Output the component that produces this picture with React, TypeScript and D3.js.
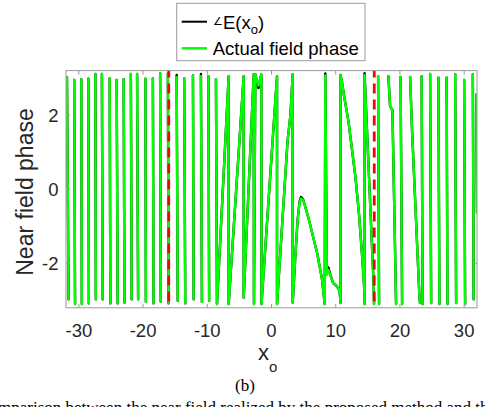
import React from "react";
import * as d3 from "d3";

type Pt = [number, number];

const X_DOMAIN: Pt = [-32, 32];
const Y_DOMAIN: Pt = [-3.2, 3.2];
const xTicks = [-30, -20, -10, 0, 10, 20, 30];
const yTicks = [-2, 0, 2];
const markerX = [-16, 16];

// wrapped phase, left outer region (shared by both traces)
const leftOuterStrokes: Pt[][] = [
  [[-32, 1.21], [-31.85, 3.02], [-31.6, -2.97]],
  [[-30.72, 2.95], [-30.59, -3.1]],
  [[-29.62, 2.97], [-29.53, -3.1]],
  [[-28.52, 2.98], [-28.44, -3.08]],
  [[-27.43, 3.11], [-27.35, -2.97]],
  [[-26.41, 3.11], [-26.29, -2.97]],
  [[-25.2, 2.99], [-25.09, -3.08]],
  [[-24.11, 2.95], [-23.95, -3.08]],
  [[-23.02, 2.97], [-22.89, -3.06]],
  [[-21.9, 3.11], [-21.77, -2.97]],
  [[-20.93, 3.11], [-20.77, -2.97]],
  [[-19.64, 2.98], [-19.56, -3.03]],
  [[-18.47, 2.99], [-18.37, -3.08]],
  [[-17.34, 3.13], [-17.25, -3.03]],
  [[-16.13, 3.12], [-16.04, -3.08]],
];

// central region, actual field phase (green)
const greenCentreStrokes: Pt[][] = [
  [[-14.77, 3.02], [-14.6, -3.01]],
  [[-13.59, 2.99], [-13.43, -3.08]],
  [[-12.23, 3.07], [-12.12, -2.97]],
  [[-10.99, 3.05], [-10.83, -3.04]],
  [[-9.82, 3.05], [-9.71, -3.01]],
  [
    [-8.65, 2.97], [-8.49, -3.1], [-6.67, 3.05], [-6.67, -3.1], [-4.33, 3.05], [-4.33, -2.93],
    [-2.77, 3.1], [-2.73, -3.1], [-2.52, 3.1], [-2.03, 2.79], [-1.59, 3.1], [-1.56, -3.1],
    [0.86, 3.05], [0.86, -3.1], [2.5, 1.3], [2.95, 2.0], [3.3, 3.1], [3.3, -3.06],
    [3.66, -1.96], [4.05, -0.88], [4.36, -0.37], [4.6, -0.25], [4.91, -0.29], [5.27, -0.48],
    [5.84, -0.83], [6.31, -1.17], [7.09, -1.71], [7.87, -2.43], [8.29, -3.1], [8.38, 3.07],
    [8.62, -2.31], [8.88, -2.18], [9.19, -2.34], [9.58, -2.53], [10.13, -2.61], [10.6, -2.74],
    [10.75, -3.07], [10.75, 3.08], [10.99, 2.87], [11.3, 2.52], [12.0, 1.81], [12.54, 1.06],
    [13.09, 0.3], [13.64, -0.7], [14.1, -1.77], [14.41, -2.58], [14.52, -3.1], [14.49, 3.08],
    [15.9, -2.53], [15.97, -3.1],
  ],
];

// central region, ∠E(x_o) (black)
const blackCentreStrokes: Pt[][] = [
  [[-14.77, 3.08], [-14.6, -3.01]],
  [[-13.59, 2.99], [-13.43, -3.08]],
  [[-12.23, 3.07], [-12.12, -2.97]],
  [[-10.99, 3.11], [-10.83, -3.04]],
  [[-9.82, 3.05], [-9.71, -3.01]],
  [
    [-8.65, 2.97], [-8.49, -3.1], [-6.67, 3.05], [-6.67, -3.1], [-4.33, 3.05], [-4.33, -2.93],
    [-2.77, 3.1], [-2.73, -3.1], [-2.52, 3.1], [-2.03, 2.73], [-1.59, 3.1], [-1.56, -3.1],
    [0.86, 3.05], [0.86, -3.1], [2.5, 1.3], [2.95, 2.0], [3.3, 3.1], [3.3, -3.06],
    [3.66, -1.96], [4.05, -0.86], [4.36, -0.34], [4.6, -0.21], [4.91, -0.27], [5.27, -0.48],
    [5.84, -0.83], [6.31, -1.17], [7.09, -1.71], [7.87, -2.43], [8.29, -3.1], [8.38, 3.12],
    [8.62, -2.28], [8.85, -2.11], [9.19, -2.32], [9.58, -2.53], [10.13, -2.61], [10.6, -2.74],
    [10.75, -3.07], [10.75, 3.08], [10.99, 2.87], [11.3, 2.52], [12.0, 1.81], [12.54, 1.06],
    [13.09, 0.3], [13.64, -0.7], [14.1, -1.77], [14.41, -2.58], [14.52, -3.1], [14.49, 3.13],
    [15.9, -2.53], [15.97, -3.1],
  ],
];

// wrapped phase, right outer region (shared by both traces)
const rightOuterStrokes: Pt[][] = [
  [[16.6, 3.05], [16.75, -3.1]],
  [[18.2, 3.05], [18.47, 2.23], [18.83, 2.14], [19.4, -3.1]],
  [[20.1, 3.03], [20.34, -3.1]],
  [[21.58, 3.03], [21.9, 1.54], [23.03, -2.88], [23.11, -3.07]],
  [[23.38, 3.05], [23.53, -3.1]],
  [[24.7, 3.11], [24.86, -3.07]],
  [[25.99, 3.01], [26.15, -3.1]],
  [[27.27, 3.01], [27.4, -3.1]],
  [[28.6, 3.1], [28.75, -3.07]],
  [[30.0, 2.95], [30.15, -3.1]],
  [[31.35, 3.1], [31.48, -2.97]],
  [[31.9, 2.55], [32.0, -0.63]],
];

const L = 66, R = 477, T = 70.6, B = 307.8;

export default function App() {
  const x = d3.scaleLinear().domain(X_DOMAIN).range([L, R]);
  const y = d3.scaleLinear().domain(Y_DOMAIN).range([B, T]);
  const line = d3.line<Pt>().x((d) => x(d[0])).y((d) => y(d[1]));
  const pathOf = (strokes: Pt[][]) => strokes.map((s) => line(s)).join("");
  const blackPath = pathOf([...leftOuterStrokes, ...blackCentreStrokes, ...rightOuterStrokes]);
  const greenPath = pathOf([...leftOuterStrokes, ...greenCentreStrokes, ...rightOuterStrokes]);
  const font = "'Liberation Sans', Arial, Helvetica, sans-serif";
  const serif = "'Liberation Serif', 'Times New Roman', serif";
  const axisCol = "#262626";
  const tickLen = 4;

  return (
    <svg width={485} height={407} style={{ position: "absolute", left: 0, top: 0, background: "#fff" }}
      fontFamily={font}>
      <rect x={0} y={0} width={485} height={407} fill="#fff" />
      <defs>
        <clipPath id="plotClip">
          <rect x={L} y={T} width={R - L} height={B - T} />
        </clipPath>
      </defs>
      <g clipPath="url(#plotClip)">
        <path d={blackPath} fill="none" stroke="#000" strokeWidth={2.4} strokeLinejoin="round" strokeLinecap="round" />
        <path d={greenPath} fill="none" stroke="#00ff00" strokeWidth={2.4} strokeLinejoin="round" strokeLinecap="round" />
        {markerX.map((m) => (
          <line key={m} x1={x(m)} x2={x(m)} y1={y(Y_DOMAIN[1])} y2={y(Y_DOMAIN[0])}
            stroke="#ff0000" strokeWidth={2.8} strokeDasharray="10,6" strokeDashoffset={3} />
        ))}
      </g>
      {/* axes box */}
      <rect x={L} y={T} width={R - L} height={B - T} fill="none" stroke="#9a9a9a" strokeWidth={1} />
      {xTicks.map((t) => (
        <g key={"x" + t}>
          <line x1={x(t)} x2={x(t)} y1={B} y2={B - tickLen} stroke="#9a9a9a" />
          <line x1={x(t)} x2={x(t)} y1={T} y2={T + tickLen} stroke="#9a9a9a" />
          <text x={x(t)} y={337} textAnchor="middle" fontSize={18.5} fill={axisCol}>{t}</text>
        </g>
      ))}
      {yTicks.map((t) => (
        <g key={"y" + t}>
          <line x1={L} x2={L + tickLen} y1={y(t)} y2={y(t)} stroke="#9a9a9a" />
          <line x1={R} x2={R - tickLen} y1={y(t)} y2={y(t)} stroke="#9a9a9a" />
          <text x={58.5} y={y(t)} dy="0.35em" textAnchor="end" fontSize={18.5} fill={axisCol}>{t}</text>
        </g>
      ))}
      <text transform="translate(33,192) rotate(-90)" textAnchor="middle" fontSize={23} fill={axisCol}>
        Near field phase
      </text>
      <text x={258} y={360} fontSize={22} fill={axisCol}>
        x<tspan fontSize={15} dy={12}>o</tspan>
      </text>
      {/* legend */}
      <rect x={176.7} y={3.3} width={188.3} height={57.4} fill="#fff" stroke="#9a9a9a" strokeWidth={1} />
      <line x1={181.7} x2={207} y1={21.7} y2={21.7} stroke="#000" strokeWidth={2} />
      <text x={213} y={28.5} fontSize={18.5} fill="#000">
        <tspan fontSize={11} dy={-4}>∠</tspan>
        <tspan dy={4}>E(x</tspan>
        <tspan fontSize={13} dy={5}>o</tspan>
        <tspan dy={-5}>)</tspan>
      </text>
      <line x1={181.7} x2={207} y1={48.3} y2={48.3} stroke="#00ff00" strokeWidth={2.4} />
      <text x={212.7} y={54.5} fontSize={18.5} fill="#000">Actual field phase</text>
      {/* caption */}
      <text x={245} y={391} textAnchor="middle" fontSize={17} fontFamily={serif} fill="#000">(b)</text>
      <text x={-2} y={413} fontSize={17} fontFamily={serif} fill="#000">
        mparison between the near field realized by the proposed method and the
      </text>
    </svg>
  );
}
